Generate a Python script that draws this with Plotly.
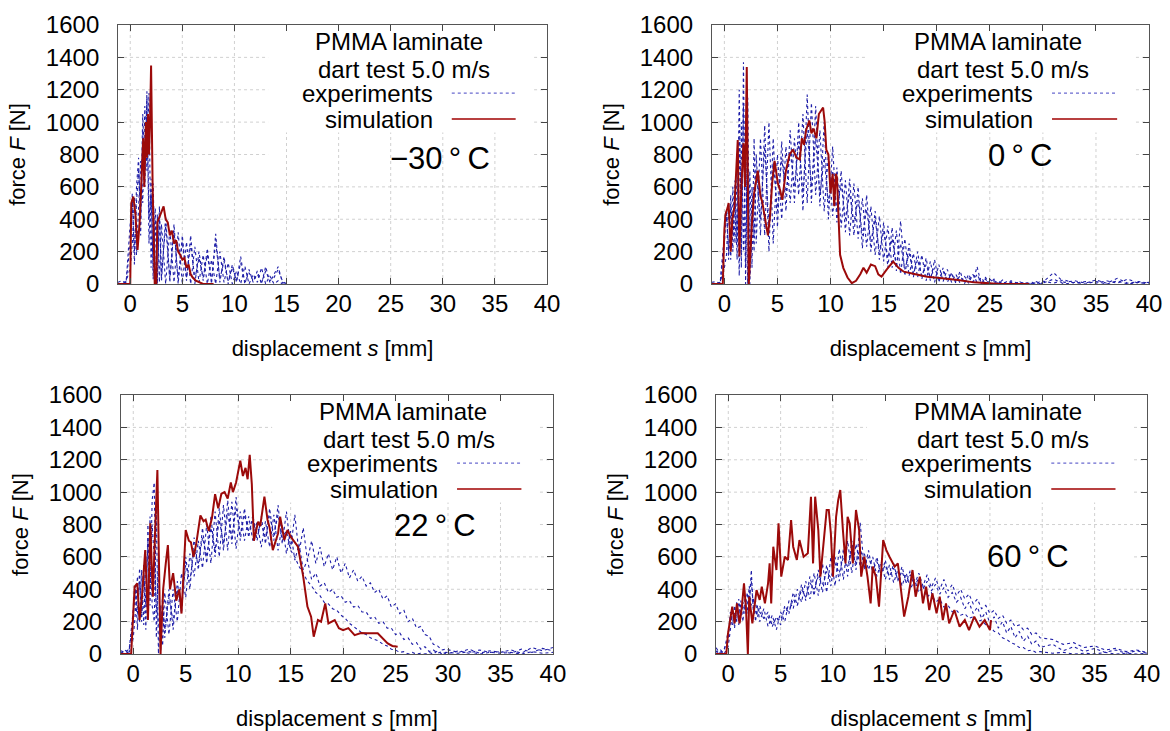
import plotly.graph_objects as go
from plotly.subplots import make_subplots

# displacement grid of the experiment records [mm]
S_EXP = [-1.2, -0.8, -0.4,
         0.0, 0.2, 0.4, 0.6, 0.8, 1.0, 1.2, 1.4, 1.6, 1.8, 2.0, 2.2, 2.4, 2.6, 2.8,
         3.0, 3.4, 3.8, 4.2, 4.6, 5.0, 5.4, 5.8, 6.2, 6.6, 7.0, 7.4, 7.8, 8.2, 8.6, 9.0, 9.4,
         9.8, 10.2, 10.6, 11.0, 11.4, 11.8, 12.2, 12.6, 13.0, 13.4, 13.8, 14.2, 14.6, 15.0, 15.4, 15.8, 16.2,
         16.6, 17.0, 17.4, 17.8, 18.2, 18.6, 19.0, 19.4, 19.8, 20.2, 20.6, 21.0, 21.4, 21.8, 22.2, 22.6, 23.0,
         23.4, 23.8, 24.2, 24.6, 25.0, 25.4, 25.8, 26.2, 26.6, 27.0, 27.4, 27.8, 28.2, 28.6, 29.0, 29.4, 29.8,
         31, 32, 33, 34, 35, 36, 37, 38, 39, 40]
S_EXP_30 = S_EXP[:49]  # -30 C records stop at 15 mm

# ---- -30 C ----
EXP30_A = [10, 20, 5,
           380, 560, 120, 600, 780, 300, 950, 600, 1190, 250, 650, 30, 470, 0, 480,
           20, 420, 10, 370, 0, 300, 20, 300, 0, 200, 20, 220, 0, 310, 10, 170, 0,
           120, 10, 170, 0, 90, 10, 80, 0, 107, 10, 60, 107, 10, 0]
EXP30_B = [0, 5, 15,
           100, 250, 540, 180, 450, 760, 500, 1100, 700, 1180, 100, 620, 20, 430, 10,
           370, 0, 340, 10, 320, 0, 260, 0, 230, 10, 180, 0, 150, 0, 200, 10, 130,
           0, 80, 0, 110, 0, 60, 10, 100, 0, 50, 0, 20, 0, 0]
EXP30_C = [5, 0, 10,
           250, 520, 200, 500, 700, 400, 1050, 700, 1150, 400, 560, 80, 400, 30, 420,
           50, 360, 40, 330, 30, 260, 40, 250, 30, 160, 40, 180, 20, 260, 30, 140, 20,
           100, 20, 130, 10, 70, 20, 60, 10, 80, 20, 40, 90, 20, 0]
SIM30_S = [-1.2, 0.0, 0.1, 0.3, 0.5, 0.7, 0.9, 1.1, 1.25, 1.35, 1.5, 1.6, 1.7, 1.8, 1.9, 2.0, 2.15, 2.35,
           2.5, 2.6, 2.9, 3.2, 3.4, 3.6, 3.8, 4.0, 4.2, 4.4, 4.6, 4.8, 5.0, 5.2, 5.4, 5.6, 5.8, 6.0,
           6.3, 6.6, 7.0, 8.0]
SIM30_F = [0, 0, 500, 540, 430, 210, 380, 700, 900, 600, 1000, 780, 1050, 800, 1000, 1350, 600, 0,
           0, 380, 430, 480, 400, 380, 300, 330, 250, 270, 200, 180, 150, 160, 100, 120, 60, 40,
           20, 10, 0, 0]

# ---- 0 C ----
EXP0_A = [10, 15, 5,
          300, 460, 150, 550, 200, 640, 250, 900, 100, 1370, 0, 1150, 0, 500, 200,
          800, 300, 980, 200, 900, 350, 880, 450, 950, 500, 1000, 450, 1170, 500, 1100, 480, 1000,
          400, 850, 380, 700, 320, 650, 300, 600, 220, 550, 200, 450, 150, 380, 100, 350, 80,
          390, 50, 250, 40, 200, 30, 160, 20, 150, 10, 100, 10, 70, 5, 80, 0, 60,
          10, 107, 0, 40, 5, 30, 0, 25, 0, 20, 0, 15, 0, 10, 0, 15, 0,
          70, 10, 20, 5, 25, 5, 35, 5, 15, 5]
EXP0_B = [5, 0, 10,
          100, 180, 500, 150, 600, 250, 700, 50, 1000, 200, 900, 0, 700, 100, 900,
          250, 900, 300, 1000, 250, 800, 400, 850, 500, 900, 550, 1050, 500, 1120, 550, 950, 450,
          800, 420, 720, 350, 640, 300, 620, 280, 530, 230, 480, 180, 420, 140, 360, 100, 330,
          60, 280, 50, 190, 40, 180, 20, 140, 10, 120, 15, 90, 10, 60, 5, 50, 5,
          60, 10, 40, 0, 30, 5, 20, 0, 15, 0, 10, 0, 10, 0, 10, 0, 20,
          5, 25, 5, 15, 5, 20, 5, 30, 5, 10]
EXP0_C = [0, 10, 0,
          250, 450, 200, 480, 300, 560, 150, 1200, 200, 1100, 100, 800, 50, 600, 300,
          700, 400, 850, 350, 750, 450, 780, 550, 820, 600, 880, 560, 950, 600, 900, 550, 780,
          500, 700, 450, 620, 400, 560, 380, 520, 300, 460, 260, 400, 200, 330, 160, 280, 120,
          250, 90, 190, 70, 150, 50, 120, 40, 100, 30, 80, 20, 60, 15, 50, 10, 40,
          10, 60, 5, 30, 0, 20, 5, 15, 0, 10, 5, 10, 0, 5, 0, 10, 0,
          30, 0, 10, 0, 15, 0, 20, 0, 10, 0]
SIM0_S = [-1.2, -0.15, 0.0, 0.1, 0.3, 0.4, 0.6, 0.75, 0.95, 1.1, 1.26, 1.42, 1.6, 1.8, 1.95, 2.11, 2.3,
          2.6, 2.8, 3.15, 3.4, 3.56, 3.8, 4.1, 4.3, 4.5, 4.73, 5.04, 5.25, 5.45, 5.8, 6.15, 6.46, 6.8,
          7.1, 7.3, 7.5, 7.7, 8.0, 8.2, 8.4, 8.67, 8.9, 9.1, 9.3, 9.45, 9.6, 9.8, 10.0, 10.2, 10.35,
          10.5, 10.6, 10.9, 11.2, 11.6, 12.0, 12.4, 12.8, 13.1, 13.4, 13.8, 14.2, 14.5, 14.8, 15.3,
          15.9, 16.4, 16.9, 18.0, 19.1, 20.5, 22.0, 23.5, 24.9, 26.0, 28.7]
SIM0_F = [0, 0, 330, 430, 470, 500, 200, 400, 480, 700, 890, 170, 600, 870, 600, 1340, 0,
          380, 560, 700, 540, 510, 420, 300, 420, 620, 760, 620, 580, 520, 700, 800, 830, 780,
          770, 900, 860, 950, 1010, 930, 960, 900, 1050, 1070, 1090, 1000, 830, 800, 560, 680, 480,
          680, 660, 180, 100, 40, 5, 20, 60, 100, 70, 120, 110, 60, 45, 90,
          138, 100, 76, 60, 45, 35, 25, 10, 4, 0, 0]

# ---- 22 C ----
EXP22_A = [20, 10, 30,
           200, 420, 150, 530, 250, 550, 150, 800, 300, 950, 1060, 100, 600, 0, 380,
           100, 400, 150, 450, 250, 600, 400, 720, 520, 780, 560, 850, 600, 900, 640, 950, 680,
           970, 700, 900, 720, 860, 700, 850, 680, 900, 700, 920, 680, 880, 650, 860, 620, 780,
           580, 700, 560, 660, 540, 620, 520, 600, 500, 560, 470, 520, 450, 480, 420, 440, 380,
           400, 340, 360, 290, 310, 250, 270, 200, 220, 160, 170, 120, 110, 60, 50, 25, 30,
           10, 30, 5, 20, 10, 25, 5, 40, 20, 40]
EXP22_B = [0, 25, 5,
           100, 250, 480, 200, 520, 180, 600, 250, 850, 300, 200, 900, 0, 300, 50,
           380, 120, 400, 200, 500, 350, 620, 480, 700, 530, 800, 560, 880, 600, 920, 640, 940,
           650, 880, 700, 850, 700, 820, 660, 820, 660, 860, 640, 800, 620, 760, 580, 680, 520,
           580, 460, 500, 420, 440, 380, 400, 350, 360, 320, 330, 290, 300, 260, 260, 220, 230,
           190, 200, 160, 160, 120, 130, 90, 100, 60, 70, 30, 45, 15, 25, 5, 15, 0,
           20, 5, 25, 10, 15, 5, 30, 10, 35, 20]
EXP22_C = [10, 0, 15,
           300, 400, 250, 450, 200, 500, 300, 700, 400, 800, 600, 300, 200, 100, 300,
           150, 350, 200, 400, 300, 550, 450, 650, 560, 720, 600, 780, 640, 830, 680, 870, 720,
           900, 740, 860, 760, 820, 740, 800, 720, 850, 740, 860, 720, 760, 640, 600, 540, 500,
           450, 420, 380, 360, 320, 310, 280, 270, 240, 220, 190, 170, 150, 130, 120, 100, 90,
           80, 60, 50, 30, 25, 10, 15, 0, 10, 0, 5, 0, 10, 0, 20, 0, 10,
           5, 15, 0, 10, 5, 10, 0, 15, 5, 10]
SIM22_S = [-1.2, -0.2, 0.13, 0.38, 0.6, 0.83, 1.14, 1.4, 1.62, 1.87, 2.05, 2.3, 2.6, 2.85, 3.1, 3.3,
           3.5, 3.8, 4.1, 4.4, 4.6, 4.8, 5.0, 5.3, 5.5, 5.75, 6.0, 6.4, 6.7, 6.9, 7.2, 7.5, 7.8, 8.1,
           8.4, 8.7, 9.0, 9.3, 9.5, 9.8, 10.0, 10.2, 10.45, 10.7, 10.9, 11.1, 11.3, 11.5, 11.9, 12.1,
           12.5, 12.8, 13.0, 13.3, 13.8, 14.0, 14.4, 14.7, 15.0, 15.3, 15.7, 16.2, 16.6, 16.95, 17.2,
           17.6, 17.9, 18.3, 18.6, 19.2, 19.6, 20.0, 20.5, 21.1, 21.7, 22.3, 23.3, 24.25, 24.7, 25.2]
SIM22_F = [0, 0, 416, 437, 210, 354, 642, 210, 807, 354, 700, 1137, 0, 400, 560, 673,
           400, 500, 330, 400, 250, 500, 766, 700, 690, 600, 680, 856, 820, 830, 760, 840, 988, 900,
           990, 1000, 960, 1060, 1000, 1060, 1120, 1194, 1100, 1150, 1080, 1230, 1050, 700, 818, 790,
           972, 828, 780, 642, 745, 848, 704, 766, 725, 700, 663, 478, 293, 231, 107,
           210, 200, 313, 189, 210, 160, 148, 160, 117, 130, 128, 128, 66, 50, 45]

# ---- 60 C ----
EXP60_A = [40, 10, 30,
           100, 260, 180, 300, 200, 340, 220, 320, 250, 380, 300, 520, 250, 330, 230,
           300, 220, 260, 170, 230, 180, 300, 250, 380, 300, 430, 330, 480, 360, 520, 380, 550,
           420, 600, 450, 650, 480, 700, 520, 810, 520, 640, 500, 600, 480, 580, 460, 560, 450,
           540, 440, 520, 430, 500, 420, 490, 410, 470, 400, 460, 390, 430, 360, 400, 340, 370,
           310, 340, 280, 300, 250, 270, 220, 240, 190, 210, 170, 180, 150, 160, 120, 130, 100,
           90, 60, 70, 40, 50, 25, 35, 15, 25, 10]
EXP60_B = [10, 30, 0,
           50, 150, 280, 160, 320, 180, 330, 200, 350, 250, 420, 300, 350, 200, 300,
           200, 280, 170, 240, 150, 260, 200, 330, 280, 400, 320, 450, 340, 500, 360, 560, 380,
           600, 420, 650, 460, 700, 500, 680, 540, 620, 520, 600, 480, 570, 460, 550, 440, 520,
           420, 500, 400, 460, 380, 420, 350, 380, 320, 340, 290, 300, 260, 270, 240, 250, 220,
           230, 200, 210, 180, 170, 140, 130, 100, 90, 70, 60, 40, 40, 20, 25, 10, 15,
           5, 10, 0, 5, 0, 10, 0, 5, 0, 5]
EXP60_C = [20, 0, 20,
           150, 200, 230, 250, 240, 280, 260, 300, 280, 320, 350, 450, 280, 260, 250,
           260, 220, 230, 180, 220, 210, 280, 260, 340, 300, 400, 350, 440, 400, 480, 430, 510,
           470, 560, 500, 600, 540, 640, 560, 660, 540, 600, 520, 570, 500, 550, 480, 530, 460,
           510, 440, 490, 420, 470, 400, 450, 390, 430, 370, 410, 350, 380, 320, 350, 280, 320,
           250, 290, 220, 260, 190, 230, 160, 200, 130, 170, 100, 140, 80, 110, 60, 80, 40,
           60, 20, 45, 15, 35, 10, 25, 5, 20, 5]
SIM60_S = [-1.2, -0.19, -0.03, 0.19, 0.38, 0.6, 0.83, 1.08, 1.3, 1.5, 1.7, 1.87, 2.0, 2.3, 2.5, 2.7,
           3.0, 3.2, 3.5, 3.8, 3.95, 4.1, 4.3, 4.6, 4.8, 5.06, 5.4, 5.7, 6.0, 6.2, 6.55, 6.8, 7.2,
           7.6, 7.9, 8.1, 8.3, 8.6, 8.8, 9.1, 9.4, 9.6, 9.8, 10.0, 10.3, 10.5, 10.7, 10.95, 11.2,
           11.4, 11.6, 11.9, 12.2, 12.5, 12.7, 13.0, 13.3, 13.6, 13.8, 14.1, 14.4, 14.8, 15.1, 15.4,
           15.9, 16.2, 16.5, 16.8, 17.2, 17.6, 17.9, 18.3, 18.6, 18.9, 19.2, 19.5, 19.9, 20.2, 20.5,
           20.8, 21.1, 21.6, 22.1, 22.6, 23.0, 23.5, 24.0, 24.5, 25.0, 25.1]
SIM60_F = [0, 0, 124, 231, 293, 189, 313, 189, 293, 437, 272, 0, 354, 189, 313, 395,
           334, 416, 313, 437, 560, 313, 663, 519, 807, 478, 601, 581, 828, 663, 581, 704, 601,
           622, 972, 560, 972, 766, 478, 704, 890, 890, 745, 478, 848, 951, 1013, 766, 560,
           848, 807, 560, 890, 766, 478, 601, 478, 313, 540, 478, 293, 704, 642, 601,
           540, 560, 395, 231, 354, 519, 354, 478, 313, 416, 272, 375, 251, 354, 210,
           313, 189, 272, 169, 210, 148, 231, 169, 210, 148, 210]

PANELS = [
    dict(exp=[(S_EXP_30, EXP30_A), (S_EXP_30, EXP30_B), (S_EXP_30, EXP30_C)],
         sim=(SIM30_S, SIM30_F), label="\u221230\u2009\u00b0\u2009C", lab_x=0.75, lab_y=0.486),
    dict(exp=[(S_EXP, EXP0_A), (S_EXP, EXP0_B), (S_EXP, EXP0_C)],
         sim=(SIM0_S, SIM0_F), label="0\u2009\u00b0\u2009C", lab_x=0.705, lab_y=0.498),
    dict(exp=[(S_EXP, EXP22_A), (S_EXP, EXP22_B), (S_EXP, EXP22_C)],
         sim=(SIM22_S, SIM22_F), label="22\u2009\u00b0\u2009C", lab_x=0.727, lab_y=0.498),
    dict(exp=[(S_EXP, EXP60_A), (S_EXP, EXP60_B), (S_EXP, EXP60_C)],
         sim=(SIM60_S, SIM60_F), label="60\u2009\u00b0\u2009C", lab_x=0.724, lab_y=0.375),
]

X_TICKS = [0, 5, 10, 15, 20, 25, 30, 35, 40]
Y_TICKS = [0, 200, 400, 600, 800, 1000, 1200, 1400, 1600]
X_MIN, X_MAX = -1.17, 40

BLUE = "#1f1fa8"
RED = "#9c0a0a"
GRID = "#d0d0d0"
FONT = "Liberation Sans, Arial, sans-serif"

fig = make_subplots(rows=2, cols=2)

x_dom = [[0.1009, 0.4675], [0.6085, 0.9821], [0.1034, 0.4726], [0.612, 0.9803]]
y_dom = [[0.6115, 0.9658], [0.6115, 0.9658], [0.1053, 0.4596], [0.1053, 0.4596]]

# key box (domain fractions) that hides the grid, like gnuplot's opaque key
BOX_X0, BOX_X1, BOX_Y0 = 0.35, 0.97, 0.585

shapes = []
annotations = []
for i, p in enumerate(PANELS):
    r, c = i // 2 + 1, i % 2 + 1
    for s, f in p["exp"]:
        fig.add_trace(go.Scatter(x=s, y=f, mode="lines", showlegend=False,
                                 line=dict(color=BLUE, width=1.1, dash="dot")), row=r, col=c)
    fig.add_trace(go.Scatter(x=p["sim"][0], y=p["sim"][1], mode="lines", showlegend=False,
                             line=dict(color=RED, width=2)), row=r, col=c)

    n = "" if i == 0 else str(i + 1)
    xa, ya = "x" + n, "y" + n
    xd, yd = xa + " domain", ya + " domain"

    # grid, interrupted by the key box and the temperature label
    for xv in X_TICKS[:-1]:
        frac = (xv - X_MIN) / (X_MAX - X_MIN)
        top = BOX_Y0 if BOX_X0 <= frac <= BOX_X1 else 1
        shapes.append(dict(type="line", xref=xa, yref=yd, x0=xv, x1=xv, y0=0, y1=top,
                           layer="below", line=dict(color=GRID, width=1, dash="dot")))
    for yv in Y_TICKS[1:-1]:
        frac = yv / 1600
        if frac >= BOX_Y0 or abs(frac - p["lab_y"]) < 0.03:
            segs = [(0, BOX_X0), (BOX_X1, 1)]
        else:
            segs = [(0, 1)]
        for a, b in segs:
            shapes.append(dict(type="line", xref=xd, yref=ya, x0=a, x1=b, y0=yv, y1=yv,
                               layer="below", line=dict(color=GRID, width=1, dash="dot")))

    # key samples
    shapes.append(dict(type="line", xref=xd, yref=yd, x0=0.778, x1=0.927, y0=0.737, y1=0.737,
                       line=dict(color="#6a6ad0", width=1.2, dash="dot")))
    shapes.append(dict(type="line", xref=xd, yref=yd, x0=0.778, x1=0.927, y0=0.637, y1=0.637,
                       line=dict(color="#b84040", width=2)))
    for txt, ax, ay, anc in [("PMMA laminate", 0.654, 0.938, "center"),
                             ("dart test 5.0 m/s", 0.666, 0.83, "center"),
                             ("experiments", 0.739, 0.737, "right"),
                             ("simulation", 0.739, 0.637, "right")]:
        annotations.append(dict(text=txt, xref=xd, yref=yd, x=ax, y=ay, xanchor=anc,
                                yanchor="middle", showarrow=False,
                                font=dict(size=24, color="black", family=FONT)))
    annotations.append(dict(text=p["label"], xref=xd, yref=yd, x=p["lab_x"], y=p["lab_y"],
                            xanchor="center", yanchor="middle", showarrow=False,
                            font=dict(size=31, color="black", family=FONT)))

    fig.update_xaxes(row=r, col=c, domain=x_dom[i], range=[X_MIN, X_MAX], automargin=False,
                     tickvals=X_TICKS, ticktext=[str(v) for v in X_TICKS],
                     ticks="inside", ticklen=6, tickcolor="#444", mirror="ticks",
                     showline=True, linecolor="#555", linewidth=1, showgrid=False,
                     zeroline=False, ticklabelstandoff=-2,
                     tickfont=dict(size=24, color="black", family=FONT),
                     title=dict(text="displacement <i>s</i> [mm]", standoff=24,
                                font=dict(size=22, color="black", family=FONT)))
    fig.update_yaxes(row=r, col=c, domain=y_dom[i], range=[0, 1600], automargin=False,
                     tickvals=Y_TICKS, ticktext=[str(v) for v in Y_TICKS],
                     ticks="inside", ticklen=6, tickcolor="#444", mirror="ticks",
                     showline=True, linecolor="#555", linewidth=1, showgrid=False,
                     zeroline=False, ticklabelstandoff=13,
                     tickfont=dict(size=24, color="black", family=FONT),
                     title=dict(text="force <i>F</i> [N]", standoff=14,
                                font=dict(size=22, color="black", family=FONT)))

fig.update_layout(width=1170, height=731, margin=dict(l=0, r=0, t=0, b=0, autoexpand=False),
                  plot_bgcolor="white", paper_bgcolor="white",
                  shapes=shapes, annotations=annotations, showlegend=False,
                  font=dict(family=FONT, color="black"))

fig.write_html("out.html", config={"displayModeBar": False},
               post_script="document.body.style.margin='0';")
